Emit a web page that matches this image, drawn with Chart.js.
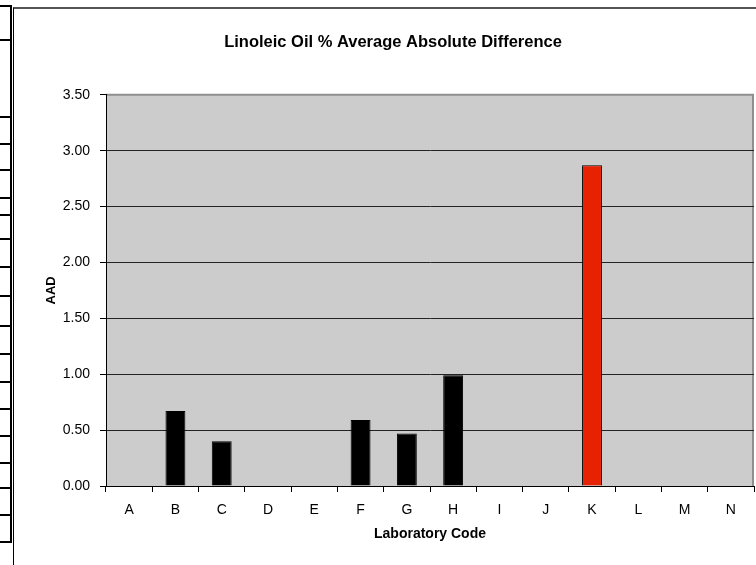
<!DOCTYPE html>
<html>
<head>
<meta charset="utf-8">
<title>Linoleic Oil % Average Absolute Difference</title>
<script src="https://cdn.jsdelivr.net/npm/chart.js@4.4.1/dist/chart.umd.min.js"></script>
<style>
  body { margin: 0; width: 756px; height: 565px; overflow: hidden; background: #fff; position: relative; }
  /* bits of the neighbouring table and the chart frame */
  #tblV  { position: absolute; left: 10px; top: 5px; width: 2px; height: 538px; background: #000; }
  .tblH  { position: absolute; left: 0; width: 12px; height: 2px; background: #000; }
  #frame { position: absolute; left: 13px; top: 7px; width: 800px; height: 600px;
           border-left: 1px solid #000; border-top: 2px solid #555; }
  #box   { position: absolute; left: 14px; top: 9px; width: 758px; height: 556px; }
</style>
</head>
<body>
<div id="tblV"></div>
<div id="frame"></div>
<div id="box"><canvas id="aadChart"></canvas></div>

<script>
// ─── DATA ─────────────────────────────────────────────────────────
const labCodes  = ['A', 'B', 'C', 'D', 'E', 'F', 'G', 'H', 'I', 'J', 'K', 'L', 'M', 'N'];
const aadValues = [null, 0.67, 0.40, null, null, 0.59, 0.47, 0.99, null, null, 2.87, null, null, null];
const flagged   = ['K'];   // drawn in red
const yMin = 0, yMax = 3.5, yStep = 0.5;

// ─── TABLE RULES ON THE LEFT (decoration) ─────────────────────────
[5, 39, 116, 143, 169, 197, 214, 238, 266, 295, 325, 353, 381, 408, 435, 462, 487, 514, 541]
  .forEach(y => {
    const d = document.createElement('div');
    d.className = 'tblH';
    d.style.top = y + 'px';
    document.body.appendChild(d);
  });

const FONT = "'Liberation Sans', Arial, sans-serif";

// grey plot area with its thin border on top and right
const plotBg = {
  id: 'plotBg',
  beforeDraw(chart) {
    const { ctx, chartArea: a } = chart;
    ctx.save();
    ctx.fillStyle = '#CCCCCC';
    ctx.fillRect(a.left, a.top, a.right - a.left, a.bottom - a.top);
    ctx.strokeStyle = '#8F8F8F';
    ctx.lineWidth = 2;
    ctx.beginPath();
    ctx.moveTo(a.left, a.top);
    ctx.lineTo(a.right - 1, a.top);
    ctx.lineTo(a.right - 1, a.bottom);
    ctx.stroke();
    ctx.restore();
  },
};

new Chart(document.getElementById('aadChart'), {
  type: 'bar',
  data: {
    labels: labCodes,
    datasets: [{
      data:            aadValues,
      backgroundColor: labCodes.map(c => flagged.includes(c) ? '#E62200' : '#000000'),
      borderColor:     '#000000',
      borderWidth:     1,
      borderSkipped:   'start',
      barPercentage:      0.43,
      categoryPercentage: 1,
    }],
  },
  options: {
    responsive: true,
    maintainAspectRatio: false,
    animation: false,
    layout: { padding: 0 },
    plugins: {
      legend:  { display: false },
      tooltip: { enabled: false },
      title: {
        display: true,
        text: 'Linoleic Oil % Average Absolute Difference',
        color: '#000',
        font: { family: FONT, size: 16.5, weight: 'bold' },
        padding: { top: 24, bottom: 42 },
      },
    },
    scales: {
      x: {
        grid:   { offset: true, drawOnChartArea: false, drawTicks: true, tickLength: 6, color: '#000' },
        border: { display: true, color: '#000', width: 1 },
        ticks:  { color: '#000', font: { family: FONT, size: 14 }, padding: 10, maxRotation: 0 },
        title:  {
          display: true, text: 'Laboratory Code', color: '#000',
          font: { family: FONT, size: 14, weight: 'bold' }, padding: { top: 0, bottom: 22 },
        },
        afterFit(s) { s.height = 79; },
      },
      y: {
        min: yMin, max: yMax,
        grid: {
          color: c => (c.tick && c.tick.value === yMax) ? 'rgba(0,0,0,0)' : '#222',
          tickColor: '#000', tickLength: 6, drawTicks: true,
        },
        border: { display: true, color: '#000', width: 1 },
        ticks:  {
          stepSize: yStep, color: '#000', padding: 10,
          font: { family: FONT, size: 14 },
          callback: v => Number(v).toFixed(2),
        },
        title:  {
          display: true, text: 'AAD', color: '#000',
          font: { family: FONT, size: 13, weight: 'bold' }, padding: { top: 30, bottom: 0 },
        },
        afterFit(s) { s.width = 92; },
      },
      // empty strip on the right so the title centres on the whole chart
      yRight: {
        position: 'right',
        display: true,
        grid:   { display: false },
        border: { display: false },
        ticks:  { display: false },
        afterFit(s) { s.width = 18; },
      },
    },
  },
  plugins: [plotBg],
});
</script>
</body>
</html>
